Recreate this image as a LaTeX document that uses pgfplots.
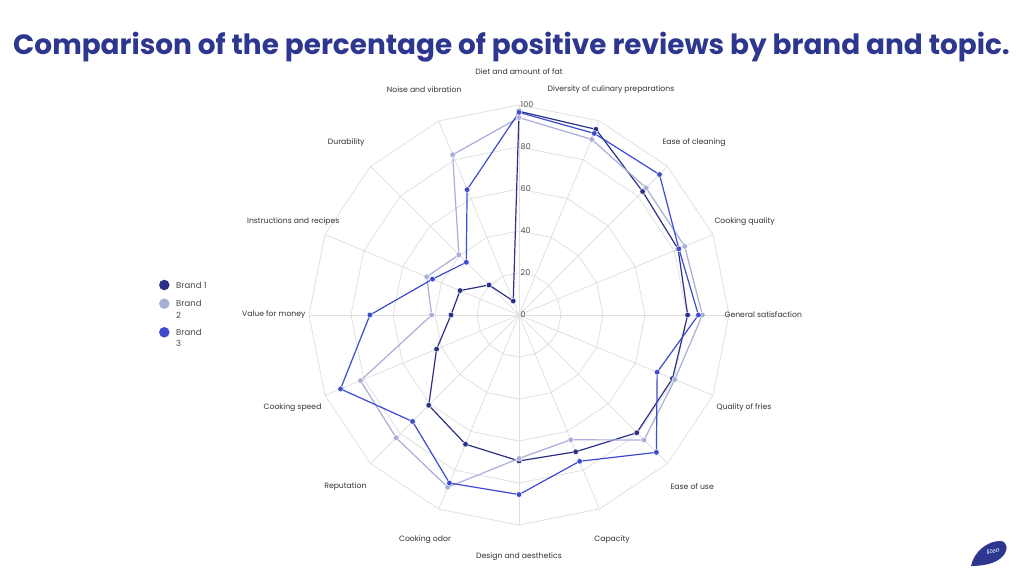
\documentclass[border=0pt]{standalone}
\usepackage{pgfplots}
\pgfplotsset{compat=1.18}
\usepackage{pgfplotstable}
\usepackage{fontspec}
\setmainfont{Poppins}
\definecolor{bOne}{HTML}{2B3187}
\definecolor{bTwo}{HTML}{A9AED9}
\definecolor{bThree}{HTML}{3D4BD0}
\definecolor{titlec}{HTML}{2E3790}
\definecolor{gridc}{HTML}{DEDEDE}
\definecolor{txt}{HTML}{333333}

\pgfplotstableread{
angle b1 b2 b3
90 97 94 96.5
67.5 95.7 90.5 93.6
45 83.2 85.6 94.6
22.5 82 85.4 82.4
0 80.3 87.3 85.4
-22.5 79.1 80.3 71.2
-45 79.3 84.2 92.5
-67.5 70.5 64.3 75.4
-90 69.5 68.3 85.5
-112.5 66.6 88.8 86.6
-135 60.8 82.7 71.7
-157.5 42.5 81.7 92
-180 32.4 41.6 71
-202.5 30.4 47.6 44.6
-225 20.2 40.5 35.5
-247.5 7.2 82.6 64.6
-270 97 94 96.5
}\data

\pgfplotstableread{
angle r20 r40 r60 r80 r100
90 20 40 60 80 100
67.5 20 40 60 80 100
45 20 40 60 80 100
22.5 20 40 60 80 100
0 20 40 60 80 100
-22.5 20 40 60 80 100
-45 20 40 60 80 100
-67.5 20 40 60 80 100
-90 20 40 60 80 100
-112.5 20 40 60 80 100
-135 20 40 60 80 100
-157.5 20 40 60 80 100
-180 20 40 60 80 100
-202.5 20 40 60 80 100
-225 20 40 60 80 100
-247.5 20 40 60 80 100
-270 20 40 60 80 100
}\gridt

\begin{document}
\begin{tikzpicture}[x=1pt,y=1pt]
\useasboundingbox (0,0) rectangle (1024,576);
\fill[white] (0,0) rectangle (1024,576);
\begin{axis}[at={(0,0)}, anchor=south west, scale only axis,
  width=1024pt, height=576pt,
  xmin=-247.142857, xmax=240.47619, ymin=-124.285714, ymax=150,
  hide axis, clip=false,
]
\foreach \c in {r20,r40,r60,r80,r100}{
  \addplot[gridc, line width=0.7pt, data cs=polar, forget plot] table[x=angle,y=\c] {\gridt};
}
\pgfplotsinvokeforeach{90,67.5,45,22.5,0,-22.5,-45,-67.5,-90,-112.5,-135,-157.5,-180,-202.5,-225,-247.5}{
  \addplot[gridc, line width=0.7pt, data cs=polar, forget plot] coordinates {(#1,0) (#1,100)};
}
\addplot[bOne, line width=1.2pt, mark=*, mark size=2.8pt, mark options={fill=bOne, draw=white, line width=0.4pt}, data cs=polar, forget plot] table[x=angle,y=b1] {\data};
\addplot[bTwo, line width=1.2pt, mark=*, mark size=2.8pt, mark options={fill=bTwo, draw=white, line width=0.4pt}, data cs=polar, forget plot] table[x=angle,y=b2] {\data};
\addplot[bThree, line width=1.2pt, mark=*, mark size=2.8pt, mark options={fill=bThree, draw=white, line width=0.4pt}, data cs=polar, forget plot] table[x=angle,y=b3] {\data};
\end{axis}

\begin{scope}[shift={(0pt,576pt)}, y=-1pt]
\node[font=\fontsize{27.9}{30}\selectfont\bfseries, text=titlec] at (511.5,47) {Comparison of the percentage of positive reviews by brand and topic.};
\begin{scope}[font=\fontsize{7.7}{9}\selectfont, text=txt]
\node at (519,72) {Diet and amount of fat};
\node at (611,90) {Diversity of culinary preparations};
\node[anchor=west] at (659,143) {Ease of cleaning};
\node[anchor=west] at (711,222) {Cooking quality};
\node[anchor=west] at (721,315) {General satisfaction};
\node[anchor=west] at (713,408) {Quality of fries};
\node[anchor=west] at (667,487) {Ease of use};
\node at (612,540) {Capacity};
\node at (519,557) {Design and aesthetics};
\node at (425,540) {Cooking odor};
\node[anchor=east] at (370,487) {Reputation};
\node[anchor=east] at (325,408) {Cooking speed};
\node[anchor=east] at (309,315) {Value for money};
\node[anchor=east] at (343,222) {Instructions and recipes};
\node[anchor=east] at (368,143) {Durability};
\node[anchor=east] at (465,90) {Noise and vibration};
\end{scope}
\begin{scope}[font=\fontsize{8}{9}\selectfont, text=txt!85]
\foreach \v/\yy in {0/315,20/273,40/231,60/189,80/147,100/105}{
  \node[anchor=west, inner sep=1pt] at (519.5,\yy) {\v};
}
\end{scope}
% legend
\node[circle, fill=bOne, inner sep=0pt, minimum size=10.5pt] at (164.3,285) {};
\node[circle, fill=bTwo, inner sep=0pt, minimum size=10.5pt] at (164.3,303.7) {};
\node[circle, fill=bThree, inner sep=0pt, minimum size=10.5pt] at (164.3,332.3) {};
\begin{scope}[font=\fontsize{8.5}{10}\selectfont, text=txt!90]
\node[anchor=west, inner sep=0pt] at (176,285) {Brand 1};
\node[anchor=west, inner sep=0pt] at (176,303.7) {Brand};
\node[anchor=west, inner sep=0pt] at (176,315) {2};
\node[anchor=west, inner sep=0pt] at (176,332.3) {Brand};
\node[anchor=west, inner sep=0pt] at (176,343.6) {3};
\end{scope}
\fill[titlec] (971,566) .. controls (974,551) and (988,541) .. (1000,541) .. controls (1007,541) and (1009,549) .. (1003,556) .. controls (996,564) and (982,566) .. (971,566) -- cycle;
\node[text=white, font=\fontsize{6}{6}\selectfont\itshape, rotate=12] at (993,551) {lizeo};
\end{scope}
\end{tikzpicture}
\end{document}
